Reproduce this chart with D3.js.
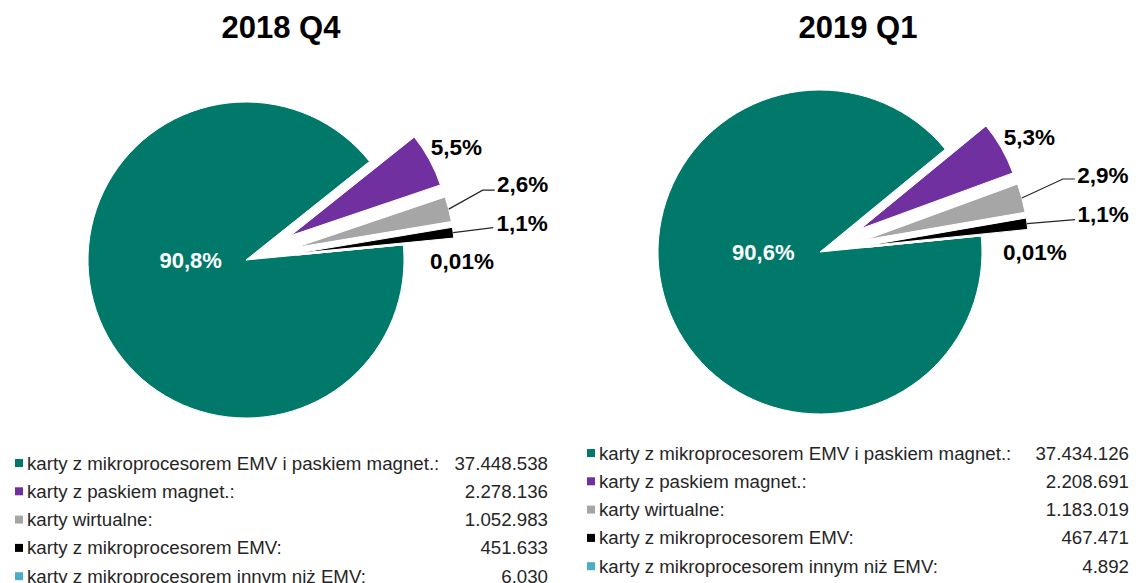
<!DOCTYPE html>
<html>
<head>
<meta charset="utf-8">
<script src="https://cdn.jsdelivr.net/npm/d3@7"></script>
<style>
  body { margin: 0; background: #fff; }
  svg { display: block; font-family: "Liberation Sans", Arial, sans-serif; }
</style>
</head>
<body>
<div id="chart"></div>
<script>
// card types (legend order = slice order)
var categories = [
  "karty z mikroprocesorem EMV i paskiem magnet.:",
  "karty z paskiem magnet.:",
  "karty wirtualne:",
  "karty z mikroprocesorem EMV:",
  "karty z mikroprocesorem innym niż EMV:"
];
var colors = ["#00796b", "#7030a0", "#a6a6a6", "#000000", "#4bacc6"];

var periods = ["2018 Q4", "2019 Q1"];
var values2018Q4 = [37448538, 2278136, 1052983, 451633, 6030];
var values2019Q1 = [37434126, 2208691, 1183019, 467471, 4892];
var labels2018Q4 = ["90,8%", "5,5%", "2,6%", "1,1%", "0,01%"];
var labels2019Q1 = ["90,6%", "5,3%", "2,9%", "1,1%", "0,01%"];

var width = 1136, height = 583;
var fmt = function(v) { return d3.format(",")(v).replace(/,/g, "."); };

var svg = d3.select("#chart").append("svg")
    .attr("width", width)
    .attr("height", height);

// layout for each pie
var layouts = [
  {cx: 246, cy: 260, r: 158, explode: 51, start: 84.5, titleX: 281,
   legendX: 15, legendY: 463, valueX: 548,
   // label offsets from the slice's outer mid point
   lab: [null, {dx: 27, dy: -13}, {dx: 74, dy: -25, ex: 34, ey: -19, lx: 46},
         {dx: 69, dy: -10, ex: 40, ey: -5, lx: 40}, {dx: 8, dy: 21}]},
  {cx: 820, cy: 252, r: 162, explode: 47, start: 84.3, titleX: 858,
   legendX: 587, legendY: 453, valueX: 1129,
   lab: [null, {dx: 28, dy: -11}, {dx: 81, dy: -23, ex: 41, ey: -19, lx: 53},
         {dx: 76, dy: -10, ex: 48, ey: -4, lx: 48}, {dx: 7, dy: 21}]}
];

function drawPie(i, values, labels) {
  var L = layouts[i];
  var a0 = L.start * Math.PI / 180;
  var pie = d3.pie().sort(null).startAngle(a0).endAngle(a0 + 2 * Math.PI);
  var arcs = pie(values);
  var arc = d3.arc().innerRadius(0).outerRadius(L.r);

  var g = svg.append("g").attr("transform", "translate(" + L.cx + "," + L.cy + ")");

  svg.append("text")
      .attr("x", L.titleX).attr("y", 38)
      .attr("text-anchor", "middle")
      .attr("font-size", 31).attr("font-weight", "bold")
      .text(periods[i]);

  function off(d, k) {
    var m = (d.startAngle + d.endAngle) / 2;
    return [Math.sin(m) * k, -Math.cos(m) * k];
  }

  g.selectAll("path.slice").data(arcs).enter().append("path")
      .attr("class", "slice")
      .attr("d", arc)
      .attr("fill", function(d, j) { return colors[j]; })
      .attr("stroke", "#fff").attr("stroke-width", 1)
      .attr("transform", function(d, j) {
        if (j === 0) return null;
        var o = off(d, L.explode);
        return "translate(" + o[0] + "," + o[1] + ")";
      });

  // big slice label inside
  g.append("text")
      .attr("x", -L.r * 0.35).attr("y", 0).attr("dy", "0.35em")
      .attr("text-anchor", "middle")
      .attr("font-size", 22).attr("font-weight", "bold").attr("fill", "#fff")
      .text(labels[0]);

  arcs.forEach(function(d, j) {
    if (j === 0) return;
    var p = L.lab[j];
    var o = off(d, L.explode + L.r);
    if (p.ex !== undefined) {
      g.append("polyline")
          .attr("points", [o, [o[0] + p.ex, o[1] + p.ey], [o[0] + p.lx, o[1] + p.ey]].join(" "))
          .attr("fill", "none").attr("stroke", "#262626").attr("stroke-width", 1.2);
    }
    g.append("text")
        .attr("x", o[0] + p.dx).attr("y", o[1] + p.dy).attr("dy", "0.35em")
        .attr("text-anchor", "middle")
        .attr("font-size", 22.5).attr("font-weight", "bold").attr("fill", "#000")
        .text(labels[j]);
  });

  // legend
  var rowH = 28.3;
  var leg = svg.append("g");
  var rows = leg.selectAll("g").data(values).enter().append("g")
      .attr("transform", function(d, j) { return "translate(0," + (L.legendY + j * rowH) + ")"; });
  rows.append("rect")
      .attr("x", L.legendX).attr("y", -4)
      .attr("width", 8).attr("height", 8)
      .attr("fill", function(d, j) { return colors[j]; });
  rows.append("text")
      .attr("x", L.legendX + 12).attr("y", 0).attr("dy", "0.35em")
      .attr("font-size", 18.7).attr("fill", "#262626")
      .text(function(d, j) { return categories[j]; });
  rows.append("text")
      .attr("x", L.valueX).attr("y", 0).attr("dy", "0.35em")
      .attr("text-anchor", "end")
      .attr("font-size", 18.7).attr("fill", "#262626")
      .text(function(d) { return fmt(d); });
}

drawPie(0, values2018Q4, labels2018Q4);
drawPie(1, values2019Q1, labels2019Q1);
</script>
</body>
</html>
